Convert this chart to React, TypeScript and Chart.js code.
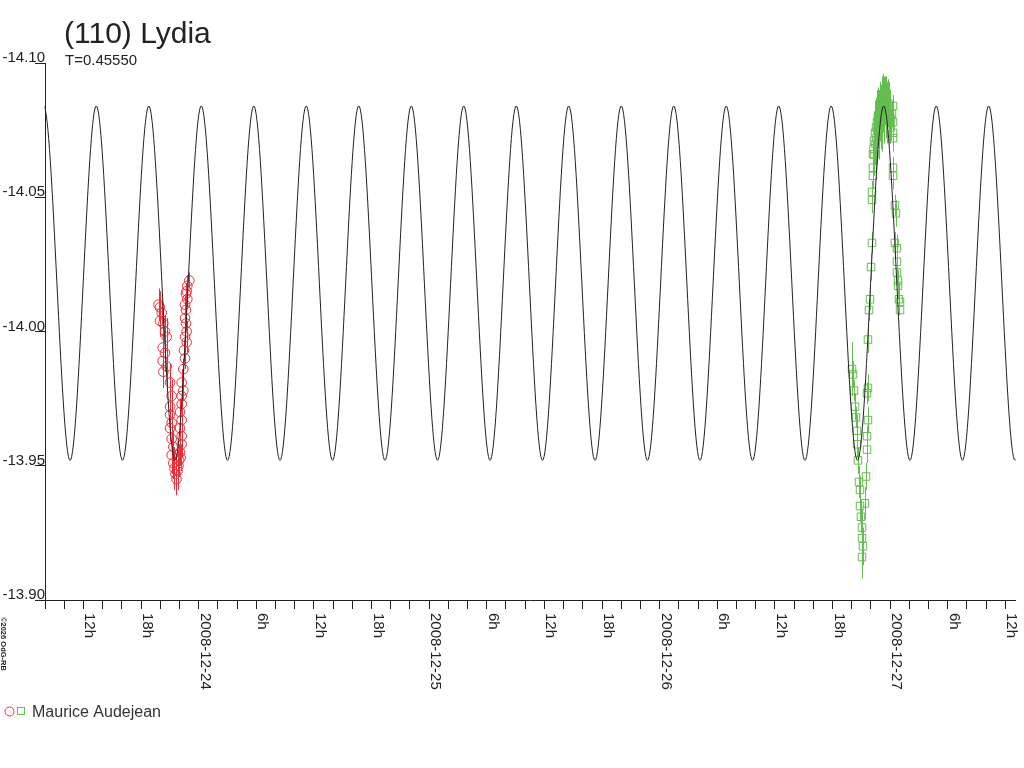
import { useEffect, useRef } from 'react';
import { Chart, registerables } from 'chart.js';

Chart.register(...registerables);

const TITLE = '(110) Lydia';
const SUBTITLE = 'T=0.45550';
const OBSERVER = 'Maurice Audejean';
const COPYRIGHT = '©2026 OdG-RB';

// hours relative to 2008-12-24 00:00 UT
const X_MIN = -16;
const X_MAX = 85;
const Y_TICKS = [-14.1, -14.05, -14.0, -13.95, -13.9];
const X_TICK_HOURS = [-12, -6, 0, 6, 12, 18, 24, 30, 36, 42, 48, 54, 60, 66, 72, 78, 84];
const X_TICK_LABELS = [
  '12h', '18h', '2008-12-24', '6h', '12h', '18h', '2008-12-25', '6h', '12h',
  '18h', '2008-12-26', '6h', '12h', '18h', '2008-12-27', '6h', '12h',
];

// model light curve: extrema
const MODEL_HOURS = [
  -18.86, -16.13, -13.39, -10.66, -7.93, -5.19, -2.46, 0.27, 3.01, 5.74, 8.47, 11.2, 13.94,
  16.67, 19.4, 22.14, 24.87, 27.6, 30.34, 33.07, 35.8, 38.53, 41.27, 44.0, 46.73,
  49.47, 52.2, 54.93, 57.67, 60.4, 63.13, 65.86, 68.6, 71.33, 74.06, 76.8, 79.53,
  82.26, 85.0, 87.73,
];
const MODEL_MAGS = [
  -13.952, -14.084, -13.952, -14.084, -13.952, -14.084, -13.952, -14.084, -13.952, -14.084, -13.952,
  -14.084, -13.952, -14.084, -13.952, -14.084, -13.952, -14.084, -13.952, -14.084, -13.952,
  -14.084, -13.952, -14.084, -13.952, -14.084, -13.952, -14.084, -13.952, -14.084, -13.952,
  -14.084, -13.952, -14.084, -13.952, -14.084, -13.952, -14.084, -13.952, -14.084,
];

// session 1 (red circles)
const RED_HOURS = [
  -4.18, -4.03, -3.85, -4.03, -3.68, -3.51, -3.33, -3.75, -3.51, -3.75, -3.33, -3.68,
  -2.98, -2.81, -2.98, -2.98, -2.81, -2.98, -2.81, -2.64, -2.81, -2.64, -2.52, -2.41,
  -2.31, -2.2, -2.1, -2.03, -1.87, -1.94, -1.77, -1.77, -1.94, -1.77, -1.94, -1.77,
  -1.77, -1.6, -1.77, -1.6, -1.42, -1.53, -1.25, -1.42, -1.25, -1.32, -1.42, -1.32,
  -1.42, -1.18, -1.32, -1.25, -1.18, -0.97,
];
const RED_MAGS = [
  -14.01, -14.009, -14.007, -14.004, -14.003, -14.0, -13.998, -13.994, -13.992, -13.989,
  -13.987, -13.985, -13.981, -13.976, -13.972, -13.969, -13.966, -13.964, -13.96, -13.957,
  -13.954, -13.951, -13.949, -13.947, -13.945, -13.948, -13.95, -13.952, -13.953, -13.955,
  -13.958, -13.961, -13.964, -13.967, -13.97, -13.973, -13.976, -13.978, -13.981, -13.986,
  -13.99, -13.993, -13.996, -13.998, -14.0, -14.003, -14.005, -14.008, -14.01, -14.012,
  -14.014, -14.015, -14.017, -14.019,
];
const RED_ERRS = [
  0.006, 0.006, 0.005, 0.006, 0.005, 0.006, 0.007, 0.006, 0.007, 0.006, 0.007, 0.006,
  0.007, 0.006, 0.006, 0.005, 0.006, 0.005, 0.006, 0.006, 0.007, 0.006, 0.008, 0.007,
  0.006, 0.007, 0.006, 0.006, 0.005, 0.005, 0.005, 0.004, 0.005, 0.004, 0.005, 0.004,
  0.004, 0.004, 0.005, 0.004, 0.004, 0.004, 0.004, 0.003, 0.004, 0.003, 0.004, 0.003,
  0.004, 0.003, 0.004, 0.003, 0.004, 0.003,
];

// session 2 (green squares)
const GREEN_HOURS = [
  68.03, 68.13, 68.24, 68.34, 68.44, 68.55, 68.55, 68.65, 68.76, 68.86, 68.86, 68.96,
  69.07, 69.07, 69.17, 69.07,
  69.38, 69.49, 69.59, 69.59, 69.69, 69.59, 69.69, 69.69, 69.8, 69.9, 70.01, 70.11,
  70.11, 70.11, 70.21, 70.21, 70.21,
  70.27, 70.32, 70.37, 70.42, 70.48, 70.53, 70.58, 70.63, 70.68, 70.73, 70.79, 70.84,
  70.89, 70.94, 71.0, 71.05, 71.1, 71.15, 71.2, 71.26, 71.31, 71.36, 71.41, 71.46,
  71.52, 71.57, 71.62, 71.67, 71.72, 71.78, 71.83, 71.88, 71.93, 71.98, 72.04, 72.09,
  72.19, 72.3, 72.3, 72.3, 72.3, 72.3, 72.3, 72.5, 72.61, 72.5, 72.71, 72.71, 72.71,
  72.82, 72.82, 72.92, 73.03, 73.03,
];
const GREEN_MAGS = [
  -13.986, -13.984, -13.978, -13.972, -13.968, -13.963, -13.958, -13.952, -13.944, -13.941,
  -13.935, -13.931, -13.927, -13.923, -13.92, -13.916,
  -13.936, -13.946, -13.956, -13.961, -13.967, -13.977, -13.979, -13.997, -14.008, -14.012,
  -14.024, -14.033, -14.049, -14.052, -14.058, -14.061, -14.066,
  -14.068, -14.071, -14.066, -14.074, -14.07, -14.076, -14.072, -14.078, -14.075, -14.08,
  -14.074, -14.077, -14.081, -14.082, -14.078, -14.08, -14.084, -14.083, -14.079, -14.085,
  -14.088, -14.082, -14.086, -14.089, -14.083, -14.084, -14.087, -14.082, -14.079, -14.085,
  -14.081, -14.082, -14.078, -14.08, -14.076, -14.079,
  -14.081, -14.084, -14.078, -14.074, -14.072, -14.061, -14.058, -14.047, -14.044, -14.033,
  -14.031, -14.026, -14.022, -14.019, -14.017, -14.012, -14.011, -14.008,
];
const GREEN_ERRS = [
  0.01, 0.005, 0.004, 0.005, 0.004, 0.006, 0.005, 0.005, 0.006, 0.005, 0.006, 0.006,
  0.007, 0.006, 0.007, 0.008,
  0.006, 0.005, 0.005, 0.004, 0.005, 0.004, 0.005, 0.005, 0.004, 0.004, 0.005, 0.004,
  0.005, 0.004, 0.005, 0.004, 0.005,
  0.009, 0.011, 0.008, 0.012, 0.009, 0.011, 0.01, 0.012, 0.009, 0.011, 0.01, 0.012,
  0.009, 0.011, 0.01, 0.012, 0.011, 0.01, 0.012, 0.011, 0.007, 0.012,
  0.008, 0.006, 0.011, 0.01, 0.008, 0.011, 0.009, 0.009, 0.009, 0.011, 0.008, 0.01,
  0.005, 0.004, 0.005, 0.004, 0.005, 0.004, 0.005, 0.004, 0.005, 0.004, 0.005, 0.004,
  0.005, 0.004, 0.005, 0.004, 0.005, 0.006,
];

const RED = 'rgb(238, 45, 55)';
const GREEN = 'rgb(100, 190, 80)';
const INK = '#222222';
const FONT = '"Liberation Sans", Arial, sans-serif';

function toXY(xs: number[], ys: number[]) {
  return xs.map((x, i) => ({ x, y: ys[i] }));
}

const decorPlugin = {
  id: 'decor',
  beforeDatasetsDraw(chart: any) {
    const { ctx, chartArea, scales } = chart;
    const xs = scales.x;
    const ys = scales.y;
    ctx.save();
    ctx.beginPath();
    ctx.rect(chartArea.left, chartArea.top, chartArea.right - chartArea.left, chartArea.bottom - chartArea.top);
    ctx.clip();
    ctx.lineWidth = 1;
    const bars = (hs: number[], ms: number[], es: number[], color: string) => {
      ctx.strokeStyle = color;
      ctx.beginPath();
      for (let i = 0; i < hs.length; i++) {
        const px = Math.round(xs.getPixelForValue(hs[i])) + 0.5;
        ctx.moveTo(px, ys.getPixelForValue(ms[i] - es[i]));
        ctx.lineTo(px, ys.getPixelForValue(ms[i] + es[i]));
      }
      ctx.stroke();
    };
    bars(RED_HOURS, RED_MAGS, RED_ERRS, RED);
    bars(GREEN_HOURS, GREEN_MAGS, GREEN_ERRS, GREEN);
    ctx.restore();
  },
  afterDraw(chart: any) {
    const { ctx, scales } = chart;
    const xs = scales.x;
    const ys = scales.y;
    ctx.save();
    ctx.fillStyle = INK;

    // title & subtitle
    ctx.textAlign = 'left';
    ctx.textBaseline = 'alphabetic';
    ctx.font = `30px ${FONT}`;
    ctx.fillText(TITLE, 64, 43);
    ctx.font = `15px ${FONT}`;
    ctx.fillText(SUBTITLE, 65, 65);

    // y labels (above tick marks)
    ctx.textAlign = 'right';
    ctx.font = `15px ${FONT}`;
    Y_TICKS.forEach((v) => {
      const py = ys.getPixelForValue(v);
      ctx.fillText(v.toFixed(2), 45, py - 1);
    });

    // x labels (rotated clockwise)
    ctx.textAlign = 'left';
    X_TICK_HOURS.forEach((h, i) => {
      const px = Math.round(xs.getPixelForValue(h)) + 0.5;
      ctx.save();
      ctx.translate(px + 1, 613);
      ctx.rotate(Math.PI / 2);
      ctx.fillText(X_TICK_LABELS[i], 0, 0);
      ctx.restore();
    });

    // copyright
    ctx.save();
    ctx.font = `bold 7.5px ${FONT}`;
    ctx.translate(1, 617);
    ctx.rotate(Math.PI / 2);
    ctx.fillText(COPYRIGHT, 0, 0);
    ctx.restore();

    // legend
    ctx.lineWidth = 1;
    ctx.strokeStyle = RED;
    ctx.beginPath();
    ctx.arc(9.5, 711.5, 4.5, 0, Math.PI * 2);
    ctx.stroke();
    ctx.strokeStyle = GREEN;
    ctx.strokeRect(17.5, 707.5, 7, 7);
    ctx.fillStyle = '#333333';
    ctx.font = `16px ${FONT}`;
    ctx.fillText(OBSERVER, 32, 717);
    ctx.restore();
  },
};

export default function App() {
  const canvasRef = useRef<HTMLCanvasElement | null>(null);

  useEffect(() => {
    const canvas = canvasRef.current;
    if (!canvas) return;
    const chart = new Chart(canvas, {
      type: 'scatter',
      data: {
        datasets: [
          {
            type: 'line',
            label: 'model',
            data: toXY(MODEL_HOURS, MODEL_MAGS),
            borderColor: INK,
            borderWidth: 1,
            pointRadius: 0,
            fill: false,
            cubicInterpolationMode: 'monotone',
          } as any,
          {
            label: OBSERVER + ' 1',
            data: toXY(RED_HOURS, RED_MAGS),
            pointStyle: 'circle',
            pointRadius: 4.8,
            pointBorderWidth: 1,
            borderColor: RED,
            backgroundColor: 'rgba(0,0,0,0)',
            pointBackgroundColor: 'rgba(0,0,0,0)',
            pointBorderColor: RED,
          } as any,
          {
            label: OBSERVER + ' 2',
            data: toXY(GREEN_HOURS, GREEN_MAGS),
            pointStyle: 'rect',
            pointRadius: 5.3,
            pointBorderWidth: 1,
            borderColor: GREEN,
            backgroundColor: 'rgba(0,0,0,0)',
            pointBackgroundColor: 'rgba(0,0,0,0)',
            pointBorderColor: GREEN,
          } as any,
        ],
      },
      options: {
        animation: false,
        responsive: false,
        devicePixelRatio: 1,
        events: [],
        layout: { padding: { left: 0, right: 9, top: 63, bottom: 0 } },
        plugins: {
          legend: { display: false },
          title: { display: false },
          tooltip: { enabled: false },
        },
        scales: {
          x: {
            type: 'linear',
            position: 'bottom',
            bounds: 'data',
            afterDataLimits: (s: any) => {
              s.min = X_MIN;
              s.max = X_MAX;
            },
            afterBuildTicks: (s: any) => {
              s.ticks = s.ticks.filter((t: any) => t.value >= X_MIN && t.value < X_MAX);
            },
            ticks: { display: false, stepSize: 2, includeBounds: false },
            grid: { drawOnChartArea: false, drawTicks: true, tickLength: 9, color: INK, lineWidth: 1 },
            border: { display: true, color: INK, width: 1 },
            afterFit: (s: any) => {
              s.height = 168;
            },
          },
          y: {
            type: 'linear',
            reverse: true,
            min: -14.1,
            max: -13.9,
            ticks: { display: false, stepSize: 0.05 },
            afterBuildTicks: (s: any) => {
              s.ticks = Y_TICKS.map((v) => ({ value: v }));
            },
            grid: { drawOnChartArea: false, drawTicks: true, tickLength: 10, color: INK, lineWidth: 1 },
            border: { display: true, color: INK, width: 1 },
            afterFit: (s: any) => {
              s.width = 45;
            },
          },
        },
      } as any,
      plugins: [decorPlugin],
    });
    return () => chart.destroy();
  }, []);

  return (
    <div style={{ position: 'absolute', left: 0, top: 0, width: 1024, height: 768, background: '#fff' }}>
      <canvas ref={canvasRef} width={1024} height={768} style={{ display: 'block', width: 1024, height: 768 }} />
    </div>
  );
}
